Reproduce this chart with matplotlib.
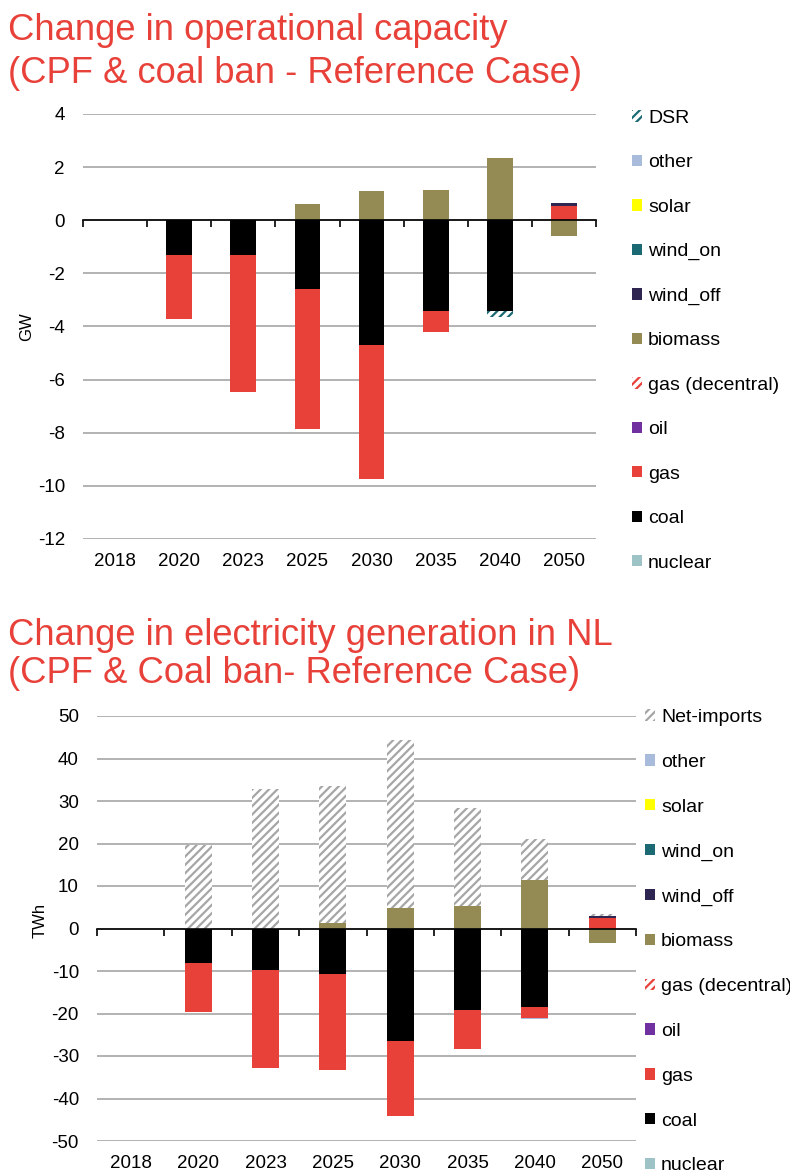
import numpy as np
import matplotlib.pyplot as plt

plt.rcParams['font.family'] = ['Liberation Sans', 'DejaVu Sans']
plt.rcParams['axes.unicode_minus'] = False
plt.rcParams['hatch.linewidth'] = 1.6

years = ['2018', '2020', '2023', '2025', '2030', '2035', '2040', '2050']

# Change in operational capacity (GW)
cap_nuclear = [0, 0, 0, 0, 0, 0, 0, 0]
cap_coal = [0, -1.3, -1.3, -2.6, -4.7, -3.4, -3.4, 0]
cap_gas = [0, -2.4, -5.15, -5.25, -5.05, -0.8, 0, 0.53]
cap_oil = [0, 0, 0, 0, 0, 0, 0, 0]
cap_gas_dec = [0, 0, 0, 0, 0, 0, 0, 0]
cap_biomass = [0, 0, 0, 0.6, 1.1, 1.12, 2.36, -0.6]
cap_wind_off = [0, 0, 0, 0, 0, 0, 0, 0.12]
cap_wind_on = [0, 0, 0, 0, 0, 0, 0, 0]
cap_solar = [0, 0, 0, 0, 0, 0, 0, 0]
cap_other = [0, 0, 0, 0, 0, 0, 0, 0]
cap_dsr = [0, 0, 0, 0, 0, 0, -0.25, 0]

# Change in electricity generation (TWh)
gen_nuclear = [0, 0, 0, 0, 0, 0, 0, 0]
gen_coal = [0, -8.15, -9.8, -10.7, -26.4, -19.1, -18.4, 0]
gen_gas = [0, -11.4, -23.0, -22.7, -17.8, -9.2, -2.7, 2.45]
gen_oil = [0, 0, 0, 0, 0, 0, 0, 0]
gen_gas_dec = [0, 0, 0, 0, 0, 0, 0, 0]
gen_biomass = [0, 0, 0, 1.3, 4.9, 5.3, 11.5, -3.4]
gen_wind_off = [0, 0, 0, 0, 0, 0, 0, 0.4]
gen_wind_on = [0, 0, 0, 0, 0, 0, 0, 0]
gen_solar = [0, 0, 0, 0, 0, 0, 0, 0]
gen_other = [0, 0, 0, 0, 0, 0, -0.2, 0]
gen_imports = [0, 19.6, 32.8, 32.2, 39.5, 23.1, 9.6, 0.5]

red = '#E8413A'

# name, colour, hatched?
styles = [('nuclear', '#9DC3C6', False),
          ('coal', '#000000', False),
          ('gas', red, False),
          ('oil', '#7030A0', False),
          ('gas (decentral)', red, True),
          ('biomass', '#948B54', False),
          ('wind_off', '#2E2650', False),
          ('wind_on', '#1B6A73', False),
          ('solar', '#FFFF00', False),
          ('other', '#A9BBDA', False)]


def stacked(ax, series, extra, ticks, ylabel, legend_xy, spacing):
    x = np.arange(len(years))
    pos = np.zeros(len(years))
    neg = np.zeros(len(years))
    handles = []
    for (name, col, hatched), vals in zip(styles + [extra], series):
        vals = np.array(vals, dtype=float)
        bottom = np.where(vals >= 0, pos, neg)
        if hatched:
            b = ax.bar(x, vals, 0.4, bottom=bottom, facecolor='white',
                       edgecolor=col, hatch='////', linewidth=0, label=name)
        else:
            b = ax.bar(x, vals, 0.4, bottom=bottom, color=col,
                       linewidth=0, label=name)
        handles.append(b)
        pos += np.where(vals > 0, vals, 0)
        neg += np.where(vals < 0, vals, 0)

    ax.set_xlim(-0.5, len(years) - 0.5)
    ax.set_ylim(ticks[0], ticks[-1])
    ax.set_yticks(ticks)
    ax.yaxis.grid(True, color='#A6A6A6', linewidth=1.2)
    ax.set_axisbelow(True)
    for s in ['top', 'left', 'right']:
        ax.spines[s].set_visible(False)
    ax.spines['bottom'].set_position(('data', 0))
    ax.spines['bottom'].set_linewidth(1.2)
    ax.set_xticks(np.arange(len(years) + 1) - 0.5)
    ax.tick_params(axis='x', length=5, width=1.2, labelbottom=False)
    ax.tick_params(axis='y', length=0, pad=13, labelsize=13.5)
    for i, yr in enumerate(years):
        ax.text(i, -0.054, yr, transform=ax.get_xaxis_transform(),
                ha='center', va='center', fontsize=13.5)
    ax.set_ylabel(ylabel, fontsize=12)

    ax.legend(handles[::-1], [h.get_label() for h in handles[::-1]],
              loc='upper left', bbox_to_anchor=legend_xy,
              bbox_transform=fig.transFigure, frameon=False, fontsize=14,
              handlelength=0.52, handleheight=0.52, handletextpad=0.3,
              labelspacing=spacing, borderaxespad=0, borderpad=0)


fig = plt.figure(figsize=(7.9, 11.73), dpi=100)

fig.text(8 / 790, 1 - 40 / 1173, 'Change in operational capacity',
         color=red, fontsize=26.2, va='baseline')
fig.text(8 / 790, 1 - 83 / 1173, '(CPF & coal ban - Reference Case)',
         color=red, fontsize=26.2, va='baseline')
fig.text(8 / 790, 1 - 645 / 1173, 'Change in electricity generation in NL',
         color=red, fontsize=26.2, va='baseline')
fig.text(8 / 790, 1 - 683 / 1173, '(CPF & Coal ban- Reference Case)',
         color=red, fontsize=26.2, va='baseline')

ax1 = fig.add_axes([83 / 790, 1 - 539 / 1173, 513 / 790, 425 / 1173])
stacked(ax1,
        [cap_nuclear, cap_coal, cap_gas, cap_oil, cap_gas_dec, cap_biomass,
         cap_wind_off, cap_wind_on, cap_solar, cap_other, cap_dsr],
        ('DSR', '#1B6A73', True), np.arange(-12, 5, 2), 'GW',
        (632 / 790, 1 - 110 / 1173), 1.41)
ax1.yaxis.set_label_coords(-0.095, 0.5)

ax2 = fig.add_axes([97 / 790, 1 - 1141 / 1173, 539 / 790, 425 / 1173])
stacked(ax2,
        [gen_nuclear, gen_coal, gen_gas, gen_oil, gen_gas_dec, gen_biomass,
         gen_wind_off, gen_wind_on, gen_solar, gen_other, gen_imports],
        ('Net-imports', '#A6A6A6', True), np.arange(-50, 51, 10), 'TWh',
        (645 / 790, 1 - 709 / 1173), 1.43)
ax2.yaxis.set_label_coords(-0.091, 0.52)

fig.savefig('out.png', dpi=100)
